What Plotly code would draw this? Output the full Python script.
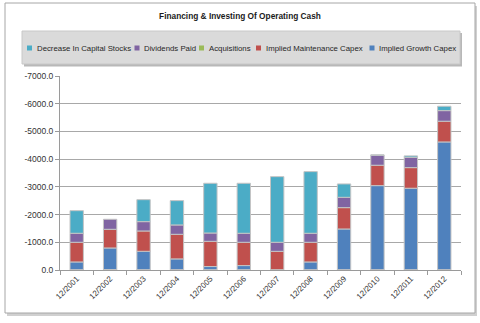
import plotly.graph_objects as go

categories = ["12/2001", "12/2002", "12/2003", "12/2004", "12/2005", "12/2006",
              "12/2007", "12/2008", "12/2009", "12/2010", "12/2011", "12/2012"]

growth_capex = [-290, -795, -675, -400, -125, -160, 0, -290, -1480, -3045, -2950, -4620]
maintenance_capex = [-710, -674, -733, -888, -910, -840, -674, -710, -770, -735, -744, -748]
acquisitions = [0, 0, 0, 0, 0, 0, 0, 0, 0, 0, 0, 0]
dividends_paid = [-325, -361, -337, -337, -300, -325, -326, -325, -373, -360, -373, -383]
decrease_capital_stocks = [-816, 0, -793, -878, -1794, -1804, -2369, -2225, -482, -15, -50, -158]

ytick_values = [0, -1000, -2000, -3000, -4000, -5000, -6000, -7000]
ytick_labels = ["0.0", "-1000.0", "-2000.0", "-3000.0", "-4000.0", "-5000.0", "-6000.0", "-7000.0"]

series = [
    ("Implied Growth Capex", growth_capex, "#4f81bd"),
    ("Implied Maintenance Capex", maintenance_capex, "#c0504d"),
    ("Acquisitions", acquisitions, "#9bbb59"),
    ("Dividends Paid", dividends_paid, "#8064a2"),
    ("Decrease In Capital Stocks", decrease_capital_stocks, "#4bacc6"),
]

W, H = 480, 323
L, R, T, B = 60, 19, 76, 53
PW, PH = W - L - R, H - T - B
FONT = "Liberation Sans"


def px_x(x):
    return (x - L) / PW


def px_y(y):
    return (H - B - y) / PH


fig = go.Figure()
for name, vals, color in series:
    fig.add_trace(go.Bar(
        x=categories, y=vals, name=name,
        marker=dict(color=color, line=dict(color="#c4c4c4", width=1)),
    ))

shapes = []
# outer chart border with shadow
shapes.append(dict(type="rect", xref="paper", yref="paper", layer="below",
                   x0=px_x(7), x1=px_x(477), y0=px_y(6), y1=px_y(316),
                   fillcolor="#d0d0d0", line=dict(width=0)))
shapes.append(dict(type="rect", xref="paper", yref="paper", layer="below",
                   x0=px_x(5), x1=px_x(475), y0=px_y(3), y1=px_y(313),
                   fillcolor="white", line=dict(color="#a6a6a6", width=1)))
# legend box with shadow
shapes.append(dict(type="rect", xref="paper", yref="paper", layer="below",
                   x0=px_x(24), x1=px_x(462), y0=px_y(33), y1=px_y(66.5),
                   fillcolor="#b8b8b8", line=dict(width=0)))
shapes.append(dict(type="rect", xref="paper", yref="paper", layer="below",
                   x0=px_x(22), x1=px_x(460), y0=px_y(31), y1=px_y(64),
                   fillcolor="#dadada", line=dict(color="#c8c8c8", width=1)))

annotations = []
legend_order = ["Decrease In Capital Stocks", "Dividends Paid", "Acquisitions",
                "Implied Maintenance Capex", "Implied Growth Capex"]
legend_x = [27, 134.5, 199, 256, 369.5]
colors = {n: c for n, _, c in series}
for name, lx in zip(legend_order, legend_x):
    shapes.append(dict(type="rect", xref="paper", yref="paper",
                       x0=px_x(lx), x1=px_x(lx + 5), y0=px_y(45.5), y1=px_y(50.5),
                       fillcolor=colors[name], line=dict(width=0)))
    annotations.append(dict(text=name, xref="paper", yref="paper",
                            x=px_x(lx + 7.5), y=px_y(48), xanchor="left", yanchor="middle",
                            showarrow=False, font=dict(family=FONT, size=7.8, color="#262626")))

fig.update_layout(
    width=W, height=H,
    margin=dict(l=L, r=R, t=T, b=B),
    paper_bgcolor="white", plot_bgcolor="rgba(0,0,0,0)",
    barmode="relative", bargap=0.6,
    showlegend=False,
    title=dict(text="<b>Financing & Investing Of Operating Cash</b>",
               xref="container", x=0.5, xanchor="center",
               yref="container", y=1 - 16 / H, yanchor="middle",
               font=dict(family=FONT, size=8.3, color="#1a1a1a")),
    xaxis=dict(type="category", tickson="boundaries", ticks="outside", ticklen=4,
               tickcolor="#9a9a9a", showline=True, linecolor="#9a9a9a",
               tickangle=-45, showgrid=False,
               tickfont=dict(family=FONT, size=8, color="#333333")),
    yaxis=dict(range=[0, -7000], tickvals=ytick_values, ticktext=ytick_labels,
               ticks="outside", ticklen=4, tickcolor="#9a9a9a",
               showline=True, linecolor="#9a9a9a",
               showgrid=True, gridcolor="#a8a8a8", gridwidth=1, zeroline=False,
               tickfont=dict(family=FONT, size=8.5, color="#333333")),
    shapes=shapes, annotations=annotations,
)

fig.write_html("out.html")
